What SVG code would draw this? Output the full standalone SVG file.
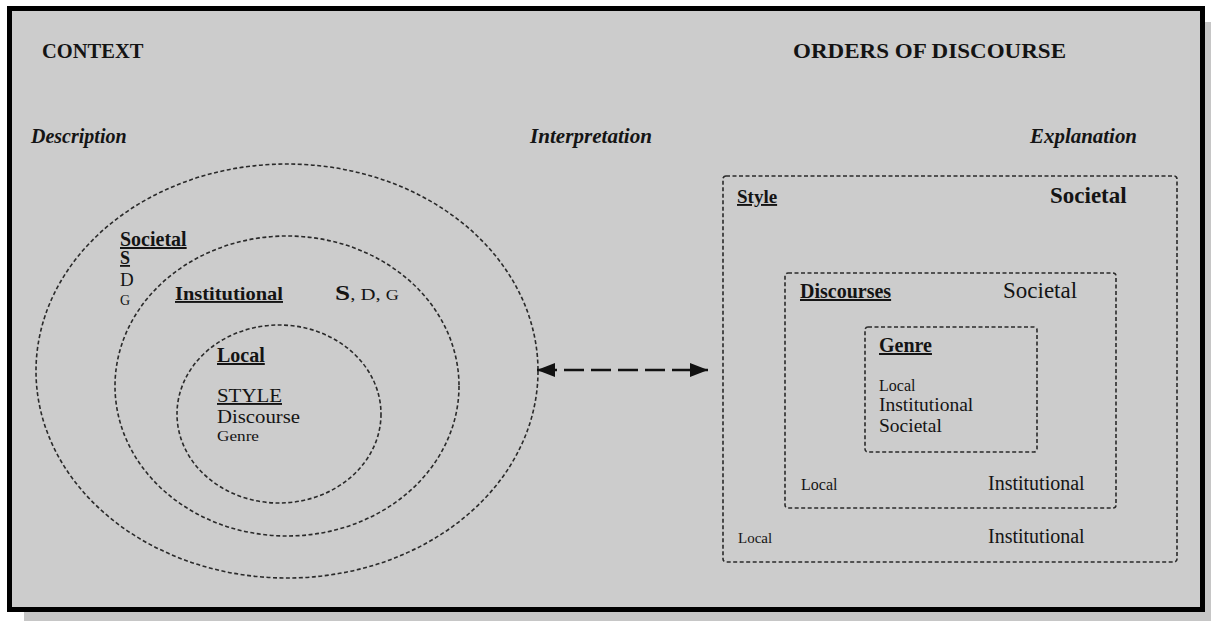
<svg xmlns="http://www.w3.org/2000/svg" width="1211" height="621" viewBox="0 0 1211 621">
<style>
.t{font-family:"Liberation Serif","Times New Roman",serif;fill:#141414}
.b{font-weight:bold}
.i{font-style:italic}
.u{text-decoration:underline}
.dot{fill:none;stroke:#2a2a2a;stroke-width:1.6;stroke-dasharray:4 2.5}
.conn{fill:none;stroke:#111;stroke-width:2.5;stroke-dasharray:20 7}
</style>
<defs>
<marker id="head" viewBox="0 0 18 14" refX="18" refY="7" markerWidth="18" markerHeight="14" markerUnits="userSpaceOnUse" orient="auto-start-reverse">
<path d="M0,0 L18,7 L0,14 z" fill="#111"/>
</marker>
</defs>
<rect x="0" y="0" width="1211" height="621" fill="#ffffff"/>
<rect x="24" y="22" width="1200" height="610" fill="#c6c6c6"/>
<rect x="9.5" y="8.5" width="1193" height="601" fill="#cccccc" stroke="#000" stroke-width="5"/>

<g id="headings">
<text class="t b" x="42" y="58" font-size="20.5">CONTEXT</text>
<text class="t b" x="793" y="58" font-size="21" textLength="273" lengthAdjust="spacingAndGlyphs">ORDERS OF DISCOURSE</text>
<text class="t b i" x="31" y="143" font-size="20">Description</text>
<text class="t b i" x="530" y="143" font-size="20.5" textLength="122" lengthAdjust="spacingAndGlyphs">Interpretation</text>
<text class="t b i" x="1030" y="143" font-size="20.5" textLength="107" lengthAdjust="spacingAndGlyphs">Explanation</text>
</g>

<g id="context-societal">
<ellipse class="dot" cx="287" cy="371" rx="251" ry="207"/>
<text class="t b u" x="120" y="246" font-size="20">Societal</text>
<text class="t b u" x="120" y="264" font-size="18">S</text>
<text class="t" x="120" y="286" font-size="19">D</text>
<text class="t" x="120" y="305" font-size="14">G</text>
</g>

<g id="context-institutional">
<ellipse class="dot" cx="287" cy="386" rx="172" ry="150"/>
<text class="t b u" x="175" y="300" font-size="19" textLength="108" lengthAdjust="spacingAndGlyphs">Institutional</text>
<text class="t" x="335" y="300" font-size="16" textLength="64" lengthAdjust="spacingAndGlyphs"><tspan font-size="21" font-weight="bold">S</tspan>, D, <tspan font-size="14">G</tspan></text>
</g>

<g id="context-local">
<ellipse class="dot" cx="279" cy="414" rx="102" ry="89"/>
<text class="t b u" x="217" y="362" font-size="20">Local</text>
<text class="t u" x="217" y="402" font-size="19" textLength="65" lengthAdjust="spacingAndGlyphs">STYLE</text>
<text class="t" x="217" y="423" font-size="19.5" textLength="83" lengthAdjust="spacingAndGlyphs">Discourse</text>
<text class="t" x="217" y="441" font-size="15" textLength="42" lengthAdjust="spacingAndGlyphs">Genre</text>
</g>

<g id="order-style">
<rect class="dot" x="723" y="176" width="454" height="386" rx="3"/>
<text class="t b u" x="737" y="203" font-size="19">Style</text>
<text class="t b" x="1050" y="203" font-size="23">Societal</text>
<text class="t" x="738" y="543" font-size="15">Local</text>
<text class="t" x="988" y="543" font-size="20">Institutional</text>
</g>

<g id="order-discourses">
<rect class="dot" x="785" y="273" width="331" height="235" rx="3"/>
<text class="t b u" x="800" y="298" font-size="20">Discourses</text>
<text class="t" x="1003" y="298" font-size="23">Societal</text>
<text class="t" x="801" y="490" font-size="16">Local</text>
<text class="t" x="988" y="490" font-size="20">Institutional</text>
</g>

<g id="order-genre">
<rect class="dot" x="865" y="327" width="172" height="125" rx="3"/>
<text class="t b u" x="879" y="352" font-size="20">Genre</text>
<text class="t" x="879" y="391" font-size="16">Local</text>
<text class="t" x="879" y="411" font-size="19.5">Institutional</text>
<text class="t" x="879" y="432" font-size="19.5">Societal</text>
</g>

<g id="connectors">
<line class="conn" x1="537" y1="370" x2="708" y2="370" marker-start="url(#head)" marker-end="url(#head)"/>
</g>
</svg>
